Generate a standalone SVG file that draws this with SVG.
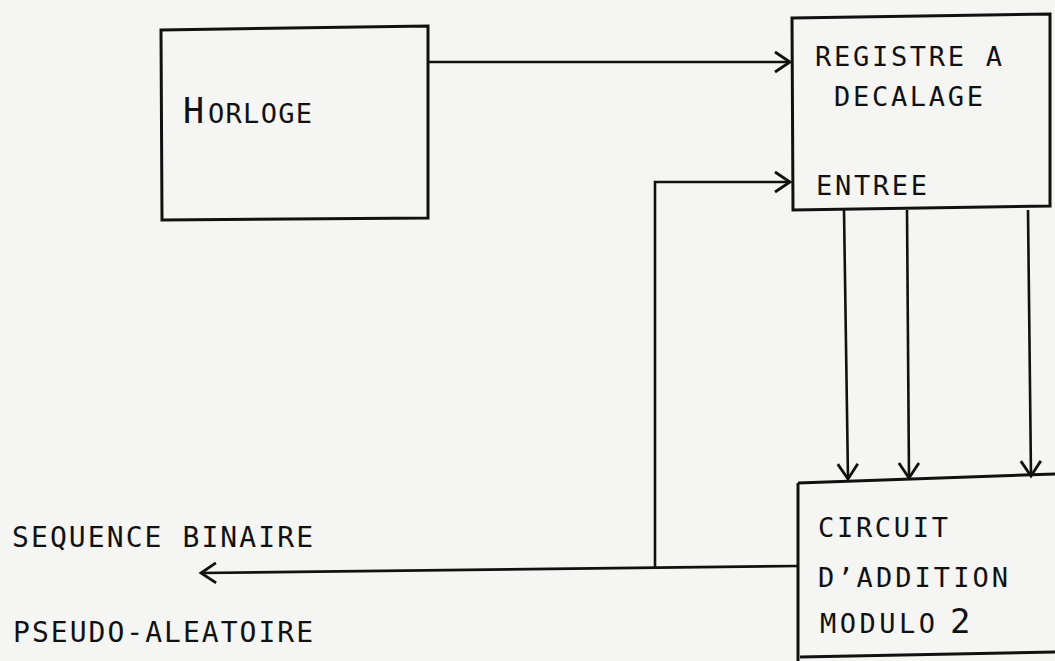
<svg xmlns="http://www.w3.org/2000/svg" width="1055" height="661" viewBox="0 0 1055 661">
<style>
.box{fill:none;stroke:#111;stroke-width:3}
.ln{fill:none;stroke:#111;stroke-width:2.6}
.t{font-family:"DejaVu Sans Mono","Liberation Mono",monospace;font-size:27px;fill:#111}
.tl{font-family:"DejaVu Sans Mono","Liberation Mono",monospace;font-size:28px;fill:#111}
</style>
<defs>
<marker id="ah" markerUnits="userSpaceOnUse" markerWidth="20" markerHeight="24" viewBox="-16 -11 20 22" refX="0" refY="0" orient="auto">
<path d="M-15,-10 L0,0 L-15,10" fill="none" stroke="#111" stroke-width="2.8"/>
</marker>
</defs>
<rect width="1055" height="661" fill="#f5f5f3"/>
<g id="connectors">
<line class="ln" x1="428" y1="62" x2="790" y2="62" marker-end="url(#ah)"/>
<polyline class="ln" points="655,568 655,182 790,182" marker-end="url(#ah)"/>
<line class="ln" x1="798" y1="566" x2="201" y2="573" marker-end="url(#ah)"/>
<line class="ln" x1="844" y1="210" x2="848" y2="479" marker-end="url(#ah)"/>
<line class="ln" x1="907" y1="210" x2="909" y2="478" marker-end="url(#ah)"/>
<line class="ln" x1="1028" y1="210" x2="1031" y2="476" marker-end="url(#ah)"/>
</g>
<g id="horloge">
<path class="box" d="M161,30 L428,26 L428,218 L162,220 Z"/>
<text class="t" x="183" y="123"><tspan font-size="35">H</tspan><tspan x="208" textLength="104" lengthAdjust="spacing" font-size="27">ORLOGE</tspan></text>
</g>
<g id="registre">
<path class="box" d="M792,18 L1050,14 L1050,206 L793,210 Z"/>
<text class="t" x="815" y="66" textLength="187" lengthAdjust="spacing">REGISTRE A</text>
<text class="t" x="834" y="106" textLength="149" lengthAdjust="spacing">DECALAGE</text>
<text class="t" x="816" y="195" textLength="111" lengthAdjust="spacing">ENTREE</text>
</g>
<g id="circuit">
<path class="box" d="M798,483 L1055,474 M798,483 L798,661 M800,657 L1055,652"/>
<text class="t" x="818" y="537" textLength="130" lengthAdjust="spacing">CIRCUIT</text>
<text class="t" x="818" y="587" textLength="190" lengthAdjust="spacing">D’ADDITION</text>
<text class="t" x="820" y="633"><tspan textLength="115" lengthAdjust="spacing">MODULO</tspan><tspan x="950" font-size="34">2</tspan></text>
</g>
<g id="sortie">
<text class="tl" x="12" y="547" textLength="301" lengthAdjust="spacing">SEQUENCE BINAIRE</text>
<text class="tl" x="13" y="642" textLength="300" lengthAdjust="spacing">PSEUDO-ALEATOIRE</text>
</g>
</svg>
